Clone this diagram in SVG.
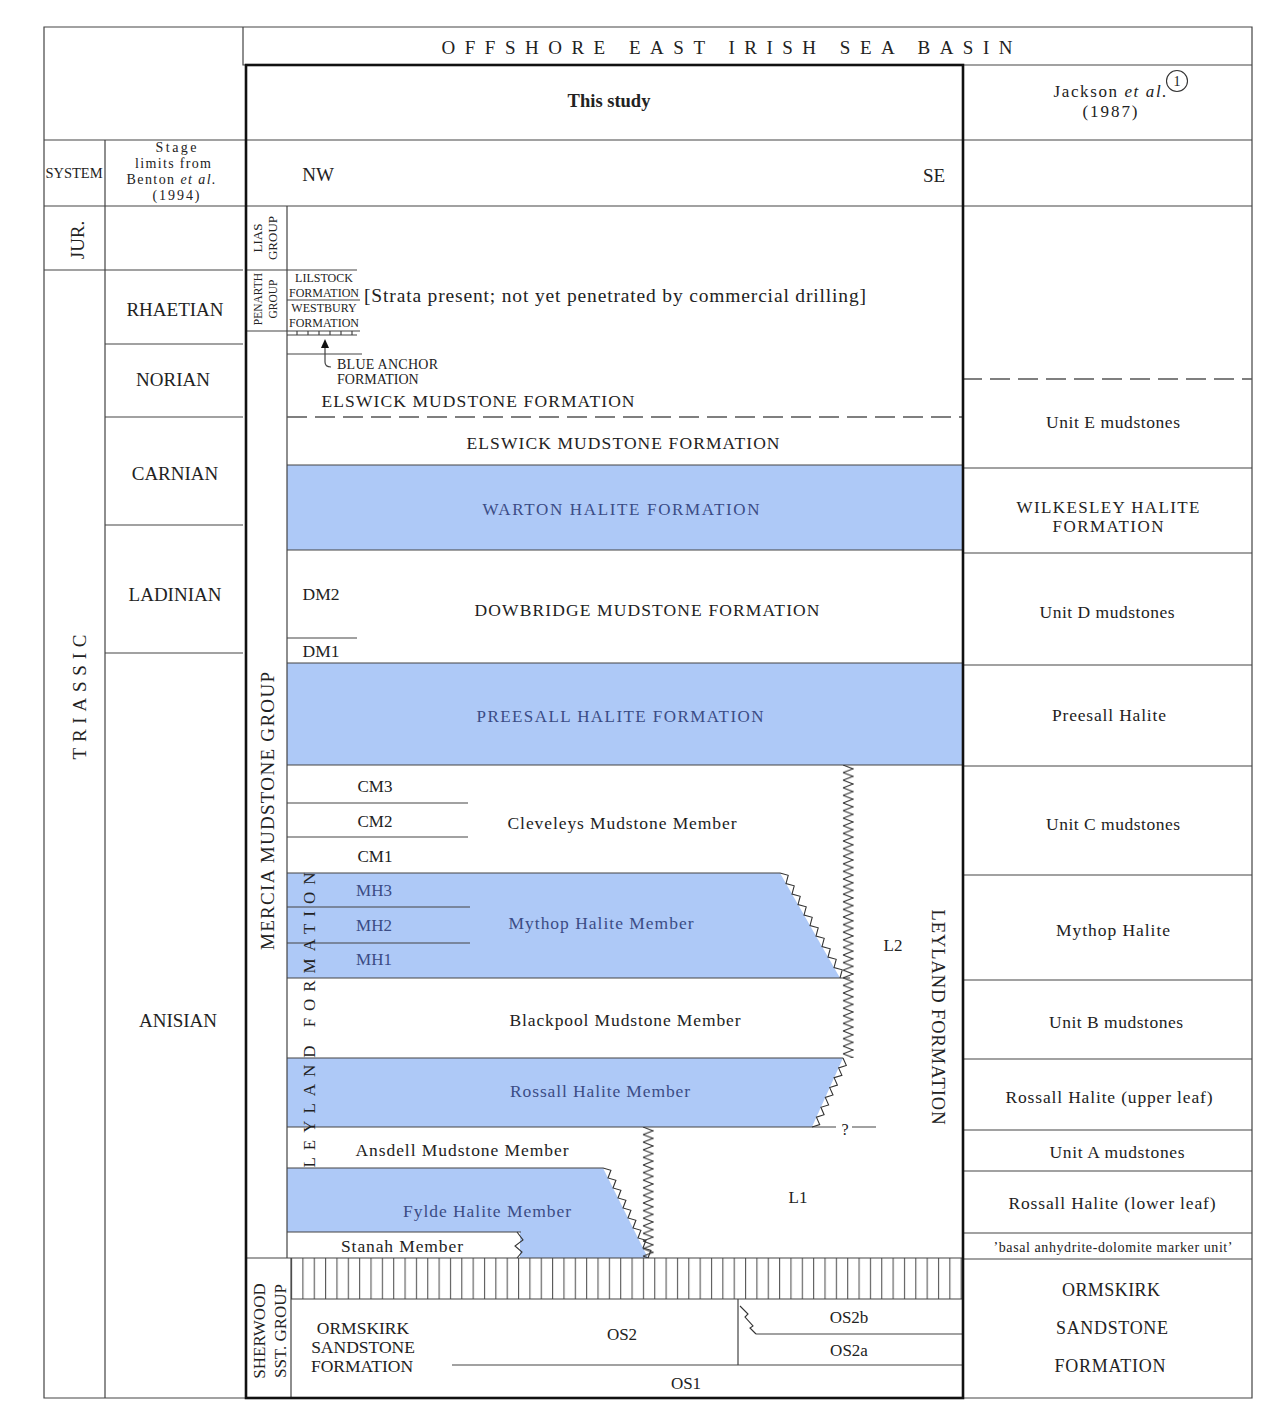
<svg xmlns="http://www.w3.org/2000/svg" width="1273" height="1411" viewBox="0 0 1273 1411">
<style>
text{font-family:"Liberation Serif","Times New Roman",serif;fill:#222}
.m{text-anchor:middle}
.bl{fill:#3b4c85}
.ln{stroke:#444;stroke-width:1.2;fill:none}
.tk{stroke:#111;stroke-width:2.6;fill:none}
.hal{fill:#aec9f7}
.dash{stroke:#555;stroke-width:1.5;stroke-dasharray:20 8;fill:none}
.zz{fill:none;stroke:#333;stroke-width:1.1}
</style>
<defs>
<pattern id="zig" width="12" height="7.6" patternUnits="userSpaceOnUse"><polyline points="1,0 11,3.8 1,7.6" fill="none" stroke="#333" stroke-width="1.1"/></pattern>
<pattern id="hatch" width="11.35" height="41" patternUnits="userSpaceOnUse"><line x1="0.6" y1="0" x2="0.6" y2="41" stroke="#444" stroke-width="1"/></pattern>
</defs>
<rect width="1273" height="1411" fill="#fff"/>

<g id="halites">
<rect class="hal" x="287" y="465" width="675" height="85"/>
<rect class="hal" x="287" y="663" width="675" height="102"/>
<path class="hal" d="M287,873H780L840,978H287Z"/>
<path class="hal" d="M287,1058H843L812,1127H287Z"/>
<path class="hal" d="M287,1168H603L648,1258H520V1232H287Z"/>
</g>

<g id="hatching">
<g transform="translate(291,1258)"><rect width="671" height="41" fill="url(#hatch)"/></g>
</g>

<g id="connectors">
<path class="ln" d="M44,27H1252V1398H44Z"/>
<path class="ln" d="M243,27V65H1252M44,140H1252M44,206H1252M105,140V1398M44,270H243M105,344H243M105,417H243M105,525H243M105,653H243"/>
<path class="ln" d="M245,270H357M287,300H360M245,331H360M287,335H357M297,331V335M308,331V335M319,331V335M330,331V335M341,331V335M352,331V335M287,354H362M287,206V1258"/>
<path class="ln" d="M287,465H962M287,550H962M287,638H357M287,663H962M287,765H962M287,803H468M287,837H468M287,873H780M287,907H470M287,943H470M287,978H850M287,1058H843M287,1127H836M852,1127H876M287,1168H603M287,1232H521M246,1258H962M291,1258V1398M291,1299H962M452,1365H962M738,1299V1365M756,1334H962"/>
<path class="ln" d="M962,468H1252M962,553H1252M962,665H1252M962,766H1252M962,875H1252M962,980H1252M962,1059H1252M962,1130H1252M962,1171H1252M962,1233H1252M962,1259H1252"/>
<path class="dash" d="M287,417H962M962,379H1252"/>
<polygon points="325,339 321,348 329,348" fill="#111"/>
<path class="ln" d="M325,348V362Q325,367 331,367"/>
<g transform="translate(842,765)"><rect width="12" height="293" fill="url(#zig)"/></g>
<g transform="translate(642,1127)"><rect width="12" height="131" fill="url(#zig)"/></g>
<polyline class="zz" points="780,873 788.2,875.3 786,883.5 794.2,885.8 792,894 800.2,896.3 798,904.5 806.2,906.8 804,915 812.2,917.3 810,925.5 818.2,927.8 816,936 824.2,938.3 822,946.5 830.2,948.8 828,957 836.2,959.3 834,967.5 842.2,969.8 840,978"/>
<polyline class="zz" points="843,1058 846.3,1065.4 838.6,1067.9 841.9,1075.3 834.1,1077.7 837.4,1085.1 829.7,1087.6 833,1095 825.3,1097.4 828.6,1104.9 820.9,1107.3 824.1,1114.7 816.4,1117.1 819.7,1124.6 812,1127"/>
<polyline class="zz" points="603,1168 610.9,1170.3 608,1178 615.9,1180.3 613,1188 620.9,1190.3 618,1198 625.9,1200.3 623,1208 630.9,1210.3 628,1218 635.9,1220.3 633,1228 640.9,1230.3 638,1238 645.9,1240.3 643,1248 650.9,1250.3 648,1258"/>
<polyline class="zz" points="517,1232 523,1240 515,1246 522,1252 517,1258"/>
<polyline class="zz" points="740,1306 748,1314 745,1317 753,1326 750,1328 756,1334"/>
<rect class="tk" x="246" y="65" width="717" height="1333"/>
</g>

<g id="header">
<text x="727" y="54" class="m" font-size="19" textLength="571" lengthAdjust="spacing">OFFSHORE EAST IRISH SEA BASIN</text>
<text x="609" y="107" class="m" font-size="18.5" font-weight="bold">This study</text>
<text x="1110" y="97" class="m" font-size="17" textLength="113" lengthAdjust="spacing">Jackson <tspan font-style="italic">et al.</tspan></text>
<text x="1110" y="117" class="m" font-size="17" textLength="55" lengthAdjust="spacing">(1987)</text>
<circle cx="1177" cy="81" r="10.5" fill="none" stroke="#333" stroke-width="1.1"/>
<text x="1177" y="86" class="m" font-size="14">1</text>
<text x="74" y="178" class="m" font-size="14.5">SYSTEM</text>
<text x="176" y="152" class="m" font-size="14" textLength="41" lengthAdjust="spacing">Stage</text>
<text x="173" y="168" class="m" font-size="14" textLength="76" lengthAdjust="spacing">limits from</text>
<text x="171" y="184" class="m" font-size="14" textLength="89" lengthAdjust="spacing">Benton <tspan font-style="italic">et al.</tspan></text>
<text x="176" y="200" class="m" font-size="14" textLength="47" lengthAdjust="spacing">(1994)</text>
<text x="318" y="181" class="m" font-size="19">NW</text>
<text x="934" y="182" class="m" font-size="19">SE</text>
</g>

<g id="stages">
<text transform="translate(84,240) rotate(-90)" class="m" font-size="19">JUR.</text>
<text transform="translate(86,697) rotate(-90)" class="m" font-size="19" textLength="125" lengthAdjust="spacing">TRIASSIC</text>
<text x="175" y="316" class="m" font-size="19">RHAETIAN</text>
<text x="173" y="386" class="m" font-size="19">NORIAN</text>
<text x="175" y="480" class="m" font-size="19">CARNIAN</text>
<text x="175" y="601" class="m" font-size="19">LADINIAN</text>
<text x="178" y="1027" class="m" font-size="19">ANISIAN</text>
</g>

<g id="groups">
<text transform="translate(262,238) rotate(-90)" class="m" font-size="13">LIAS</text>
<text transform="translate(277,238) rotate(-90)" class="m" font-size="13">GROUP</text>
<text transform="translate(262,299) rotate(-90)" class="m" font-size="11.5">PENARTH</text>
<text transform="translate(277,299) rotate(-90)" class="m" font-size="11.5">GROUP</text>
<text transform="translate(274,811) rotate(-90)" class="m" font-size="19" textLength="278" lengthAdjust="spacing">MERCIA MUDSTONE GROUP</text>
<text transform="translate(315,1020) rotate(-90)" class="m" font-size="17" textLength="295" lengthAdjust="spacing" fill="#3d4570">LEYLAND FORMATION</text>
<text transform="translate(932,1017) rotate(90)" class="m" font-size="18.5" textLength="215" lengthAdjust="spacing">LEYLAND FORMATION</text>
<text transform="translate(265,1331) rotate(-90)" class="m" font-size="17">SHERWOOD</text>
<text transform="translate(286,1331) rotate(-90)" class="m" font-size="17">SST. GROUP</text>
</g>

<g id="units">
<text x="324" y="282" class="m" font-size="12">LILSTOCK</text>
<text x="324" y="297" class="m" font-size="12">FORMATION</text>
<text x="324" y="312" class="m" font-size="12">WESTBURY</text>
<text x="324" y="327" class="m" font-size="12">FORMATION</text>
<text x="364" y="302" font-size="19.5" textLength="502" lengthAdjust="spacing">[Strata present; not yet penetrated by commercial drilling]</text>
<text x="337" y="369" font-size="14" textLength="101" lengthAdjust="spacing">BLUE ANCHOR</text>
<text x="337" y="384" font-size="14">FORMATION</text>
<text x="478" y="407" class="m" font-size="17.5" textLength="313" lengthAdjust="spacing">ELSWICK MUDSTONE FORMATION</text>
<text x="623" y="449" class="m" font-size="17.5" textLength="313" lengthAdjust="spacing">ELSWICK MUDSTONE FORMATION</text>
<text x="621" y="515" class="m bl" font-size="17" textLength="277" lengthAdjust="spacing">WARTON HALITE FORMATION</text>
<text x="321" y="600" class="m" font-size="17.5">DM2</text>
<text x="647" y="616" class="m" font-size="17.5" textLength="345" lengthAdjust="spacing">DOWBRIDGE MUDSTONE FORMATION</text>
<text x="321" y="657" class="m" font-size="17.5">DM1</text>
<text x="620" y="722" class="m bl" font-size="17" textLength="287" lengthAdjust="spacing">PREESALL HALITE FORMATION</text>
<text x="375" y="792" class="m" font-size="17">CM3</text>
<text x="375" y="827" class="m" font-size="17">CM2</text>
<text x="375" y="862" class="m" font-size="17">CM1</text>
<text x="622" y="829" class="m" font-size="17.5" textLength="229" lengthAdjust="spacing">Cleveleys Mudstone Member</text>
<text x="374" y="896" class="m bl" font-size="17">MH3</text>
<text x="374" y="931" class="m bl" font-size="17">MH2</text>
<text x="374" y="965" class="m bl" font-size="17">MH1</text>
<text x="601" y="929" class="m bl" font-size="17.5" textLength="185" lengthAdjust="spacing">Mythop Halite Member</text>
<text x="893" y="951" class="m" font-size="17">L2</text>
<text x="625" y="1026" class="m" font-size="17.5" textLength="231" lengthAdjust="spacing">Blackpool Mudstone Member</text>
<text x="600" y="1097" class="m bl" font-size="17.5" textLength="180" lengthAdjust="spacing">Rossall Halite Member</text>
<text x="845" y="1135" class="m" font-size="16">?</text>
<text x="462" y="1156" class="m" font-size="17.5" textLength="213" lengthAdjust="spacing">Ansdell Mudstone Member</text>
<text x="798" y="1203" class="m" font-size="17">L1</text>
<text x="487" y="1217" class="m bl" font-size="17.5" textLength="168" lengthAdjust="spacing">Fylde Halite Member</text>
<text x="402" y="1252" class="m" font-size="17.5" textLength="122" lengthAdjust="spacing">Stanah Member</text>
<text x="363" y="1334" class="m" font-size="17.5">ORMSKIRK</text>
<text x="363" y="1353" class="m" font-size="17.5">SANDSTONE</text>
<text x="362" y="1372" class="m" font-size="17.5">FORMATION</text>
<text x="622" y="1340" class="m" font-size="17">OS2</text>
<text x="686" y="1389" class="m" font-size="17">OS1</text>
<text x="849" y="1323" class="m" font-size="17">OS2b</text>
<text x="849" y="1356" class="m" font-size="17">OS2a</text>
</g>

<g id="jackson">
<text x="1113" y="428" class="m" font-size="17.5" textLength="134" lengthAdjust="spacing">Unit E mudstones</text>
<text x="1108" y="513" class="m" font-size="17" textLength="183" lengthAdjust="spacing">WILKESLEY HALITE</text>
<text x="1108" y="532" class="m" font-size="17" textLength="111" lengthAdjust="spacing">FORMATION</text>
<text x="1107" y="618" class="m" font-size="17.5" textLength="135" lengthAdjust="spacing">Unit D mudstones</text>
<text x="1109" y="721" class="m" font-size="17.5" textLength="114" lengthAdjust="spacing">Preesall Halite</text>
<text x="1113" y="830" class="m" font-size="17.5" textLength="134" lengthAdjust="spacing">Unit C mudstones</text>
<text x="1113" y="936" class="m" font-size="17.5" textLength="114" lengthAdjust="spacing">Mythop Halite</text>
<text x="1116" y="1028" class="m" font-size="17.5" textLength="134" lengthAdjust="spacing">Unit B mudstones</text>
<text x="1109" y="1103" class="m" font-size="17.5" textLength="207" lengthAdjust="spacing">Rossall Halite (upper leaf)</text>
<text x="1117" y="1158" class="m" font-size="17.5" textLength="135" lengthAdjust="spacing">Unit A mudstones</text>
<text x="1112" y="1209" class="m" font-size="17.5" textLength="207" lengthAdjust="spacing">Rossall Halite (lower leaf)</text>
<text x="1113" y="1252" class="m" font-size="14" textLength="239" lengthAdjust="spacing">’basal anhydrite-dolomite marker unit’</text>
<text x="1111" y="1296" class="m" font-size="18" textLength="98" lengthAdjust="spacing">ORMSKIRK</text>
<text x="1112" y="1334" class="m" font-size="18" textLength="112" lengthAdjust="spacing">SANDSTONE</text>
<text x="1110" y="1372" class="m" font-size="18" textLength="111" lengthAdjust="spacing">FORMATION</text>
</g>
</svg>
